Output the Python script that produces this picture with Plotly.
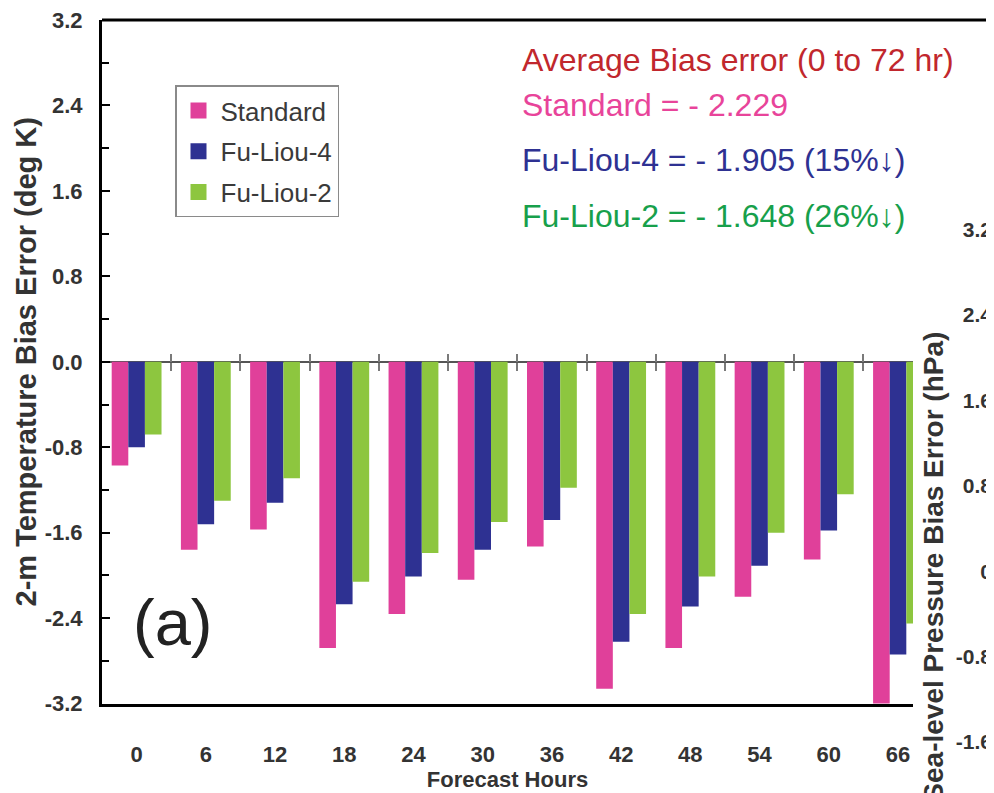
import plotly.graph_objects as go

# ---------------- data ----------------
hours = [0, 6, 12, 18, 24, 30, 36, 42, 48, 54, 60, 66]
standard = [-0.97, -1.76, -1.57, -2.68, -2.36, -2.04, -1.73, -3.06, -2.68, -2.20, -1.85, -3.22]
fu_liou_4 = [-0.80, -1.52, -1.32, -2.27, -2.01, -1.76, -1.48, -2.62, -2.29, -1.91, -1.58, -2.74]
fu_liou_2 = [-0.68, -1.30, -1.09, -2.06, -1.79, -1.50, -1.18, -2.36, -2.01, -1.60, -1.24, -2.45]
series_names = ["Standard", "Fu-Liou-4", "Fu-Liou-2"]
series_values = [standard, fu_liou_4, fu_liou_2]
bar_colors = ["#e0409a", "#2e3192", "#8dc63f"]

left_ticks = [-3.2, -2.4, -1.6, -0.8, 0.0, 0.8, 1.6, 2.4, 3.2]
left_tick_text = ["-3.2", "-2.4", "-1.6", "-0.8", "0.0", "0.8", "1.6", "2.4", "3.2"]
right_ticks = [-1.6, -0.8, 0.0, 0.8, 1.6, 2.4, 3.2]
right_tick_text = ["-1.6", "-0.8", "0", "0.8", "1.6", "2.4", "3.2"]
group_separators = [3, 9, 15, 21, 27, 33, 39, 45, 51, 57, 63]

summary_lines = [
    "Average Bias error (0 to 72 hr)",
    "Standard = - 2.229",
    "Fu-Liou-4 = - 1.905 (15%\u2193)",
    "Fu-Liou-2 = - 1.648 (26%\u2193)",
]
summary_colors = ["#c1272d", "#e8449a", "#2e3192", "#17a04b"]

FONT = "Liberation Sans, Arial, sans-serif"
# page body has an 8px default margin; figure sized so it ends at the window edge
OFF = 8
W, H = 994 - OFF, 793 - OFF
ML, MR, MT, MB = 102 - OFF, 0, 17 - OFF, 10
PW, PH = W - ML - MR, H - MT - MB
PAPER_BOTTOM = OFF + H - MB  # in window pixels


def px(xpix):
    return (xpix - OFF - ML) / PW


def py(ypix):
    return (PAPER_BOTTOM - ypix) / PH


fig = go.Figure()

for name, vals, col in zip(series_names, series_values, bar_colors):
    fig.add_trace(go.Bar(x=hours, y=vals, name=name, marker=dict(color=col, line=dict(width=0)),
                         showlegend=False, xaxis="x", yaxis="y"))

# legend entries (larger square swatches)
for i, (name, col) in enumerate(zip(series_names, bar_colors)):
    fig.add_trace(go.Scatter(x=[None], y=[None], mode="markers", name=name,
                             marker=dict(symbol="square", size=16, color=col),
                             legendgroup=f"g{i}", showlegend=True, xaxis="x", yaxis="y"))

# helper traces for auxiliary axes
fig.add_trace(go.Scatter(x=[None], y=[None], xaxis="x2", yaxis="y", showlegend=False, hoverinfo="skip"))
fig.add_trace(go.Scatter(x=[None], y=[None], xaxis="x3", yaxis="y", showlegend=False, hoverinfo="skip"))
fig.add_trace(go.Scatter(x=[None], y=[None], xaxis="x", yaxis="y2", showlegend=False, hoverinfo="skip"))

xr = [-3, 67.3]
xdom = [0, px(913)]
ydom = [py(706), 1]
zero_pos = py(362)
px_per_unit = (706 - 17) / 6.4

fig.update_layout(
    width=W, height=H,
    margin=dict(l=ML, r=MR, t=MT, b=MB),
    paper_bgcolor="white", plot_bgcolor="rgba(0,0,0,0)",
    barmode="group", bargap=0.28, bargroupgap=0,
    font=dict(family=FONT, color="#333333"),
    showlegend=True,
    legend=dict(x=px(175), y=py(83), xanchor="left", yanchor="top",
                bgcolor="white", bordercolor="#8a8a8a", borderwidth=1.5,
                font=dict(family=FONT, size=26, color="#3a3a3a"),
                traceorder="grouped", tracegroupgap=4, itemclick=False, itemwidth=34),
    xaxis=dict(domain=xdom, range=xr, tickvals=hours, ticktext=[str(h) for h in hours],
               showline=True, linewidth=3, linecolor="black", ticks="", showgrid=False,
               zeroline=False, ticklabelstandoff=29,
               tickfont=dict(family=FONT, size=22, weight="bold", color="#333333"),
               title=dict(text="Forecast Hours", standoff=2,
                          font=dict(family=FONT, size=22, weight="bold", color="#333333"))),
    xaxis2=dict(overlaying="x", anchor="free", position=zero_pos, side="bottom", range=xr,
                tickvals=group_separators, ticks="outside", ticklen=8, tickwidth=2,
                tickcolor="#7a7a7a", showticklabels=False, showline=False, showgrid=False,
                zeroline=False),
    xaxis3=dict(overlaying="x", anchor="free", position=zero_pos, side="top", range=xr,
                tickvals=group_separators, ticks="outside", ticklen=8, tickwidth=2,
                tickcolor="#7a7a7a", showticklabels=False, showline=False, showgrid=False,
                zeroline=False),
    yaxis=dict(domain=ydom, range=[-3.2, 3.2], tickvals=left_ticks, ticktext=left_tick_text,
               ticks="inside", ticklen=8, tickwidth=2, tickcolor="black",
               minor=dict(dtick=0.4, tick0=0, ticks="inside", ticklen=7, tickwidth=2,
                          tickcolor="black"),
               showline=True, linewidth=3, linecolor="black", showgrid=False,
               zeroline=True, zerolinecolor="#555555", zerolinewidth=2,
               ticklabelstandoff=12, ticklabeloverflow="allow",
               tickfont=dict(family=FONT, size=22, weight="bold", color="#333333"),
               title=dict(text="2-m Temperature Bias Error (deg K)", standoff=0,
                          font=dict(family=FONT, size=29, weight="bold", color="#333333"))),
    yaxis2=dict(domain=[0, py(228)], range=[3.2 - (PAPER_BOTTOM - 228) / px_per_unit, 3.2],
                anchor="free", position=1.0, side="left",
                tickvals=right_ticks, ticktext=right_tick_text, ticks="",
                showline=False, showgrid=False, zeroline=False, ticklabelstandoff=2,
                ticklabeloverflow="allow",
                tickfont=dict(family=FONT, size=21, weight="bold", color="#333333")),
    shapes=[dict(type="line", xref="paper", yref="paper", x0=0, x1=1, y0=1, y1=1,
                 line=dict(color="black", width=3))],
)

# summary texts
summary_y = [57, 103, 158, 215]
for txt, col, yy in zip(summary_lines, summary_colors, summary_y):
    fig.add_annotation(text=txt, xref="paper", yref="paper", x=px(520), y=py(yy),
                       xanchor="left", yanchor="middle", showarrow=False,
                       font=dict(family=FONT, size=32, color=col))

fig.add_annotation(text="(a)", xref="paper", yref="paper", x=px(172), y=py(624),
                   xanchor="center", yanchor="middle", showarrow=False,
                   font=dict(family=FONT, size=65, color="#222222"))

fig.add_annotation(text="Sea-level Pressure Bias Error (hPa)", xref="paper", yref="paper",
                   x=px(934), y=py(568), xanchor="center", yanchor="middle", textangle=-90,
                   showarrow=False,
                   font=dict(family=FONT, size=28, weight="bold", color="#333333"))

fig.write_html("out.html")
